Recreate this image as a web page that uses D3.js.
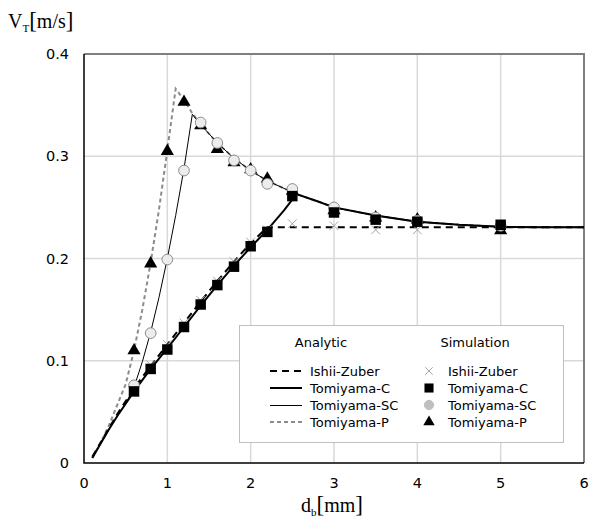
<!DOCTYPE html>
<html lang="en">
<head>
<meta charset="utf-8">
<title>Terminal velocity</title>
<script src="https://cdn.jsdelivr.net/npm/d3@7"></script>
<style>
  body { margin: 0; background: white; }
  .tick-label { font-family: "DejaVu Sans", sans-serif; font-size: 14.5px; fill: #000; }
  .legend-text { font-family: "DejaVu Sans", sans-serif; font-size: 13px; fill: #000; }
  .axis-title { font-family: "Liberation Serif", "Times New Roman", serif; fill: #000; }
</style>
</head>
<body>
<div id="chart"></div>
<script>
// analytic curves (d in mm, V in m/s)
var izX = [0.1, 0.2, 0.4, 0.6, 0.8, 1.0, 1.2, 1.4, 1.6, 1.8, 2.0, 2.2, 6.0];
var izY = [0.006, 0.020, 0.048, 0.073, 0.095, 0.116, 0.137, 0.158, 0.178, 0.197, 0.215, 0.2305, 0.2305];

var tcX = [0.1, 0.2, 0.3, 0.4, 0.5, 0.6, 0.8, 1.0, 1.2, 1.4, 1.6, 1.8, 2.0, 2.2, 2.4, 2.55, 2.8, 3.0, 3.5, 4.0, 4.5, 5.0, 5.5, 6.0];
var tcY = [0.005, 0.019, 0.033, 0.046, 0.058, 0.070, 0.092, 0.112, 0.133, 0.154, 0.174, 0.193, 0.211, 0.228, 0.247, 0.263, 0.256, 0.250, 0.242, 0.236, 0.233, 0.231, 0.2305, 0.2305];

var tscX = [0.1, 0.2, 0.3, 0.4, 0.5, 0.6, 0.7, 0.8, 0.9, 1.0, 1.1, 1.2, 1.3, 1.4, 1.6, 1.8, 2.0, 2.2, 2.55, 2.8, 3.0, 3.5, 4.0, 4.5, 5.0, 5.5, 6.0];
var tscY = [0.005, 0.019, 0.033, 0.046, 0.058, 0.074, 0.099, 0.128, 0.162, 0.200, 0.242, 0.288, 0.341, 0.331, 0.313, 0.298, 0.286, 0.276, 0.263, 0.256, 0.250, 0.242, 0.236, 0.233, 0.231, 0.2305, 0.2305];

var tpX = [0.1, 0.2, 0.3, 0.4, 0.5, 0.6, 0.7, 0.8, 0.9, 1.0, 1.1, 1.2, 1.3, 1.4, 1.6, 1.8, 2.0, 2.2, 2.55, 2.8, 3.0, 3.5, 4.0, 4.5, 5.0, 5.5, 6.0];
var tpY = [0.005, 0.020, 0.037, 0.057, 0.077, 0.110, 0.150, 0.196, 0.248, 0.306, 0.366, 0.355, 0.342, 0.331, 0.313, 0.298, 0.286, 0.276, 0.263, 0.256, 0.250, 0.242, 0.236, 0.233, 0.231, 0.2305, 0.2305];

// simulation points
var sizX = [0.6, 0.8, 1.0, 1.2, 1.4, 1.6, 1.8, 2.0, 2.2, 2.5, 3.0, 3.5, 4.0, 5.0];
var sizY = [0.074, 0.096, 0.116, 0.137, 0.159, 0.178, 0.197, 0.216, 0.228, 0.234, 0.232, 0.228, 0.228, 0.229];

var stcX = [0.6, 0.8, 1.0, 1.2, 1.4, 1.6, 1.8, 2.0, 2.2, 2.5, 3.0, 3.5, 4.0, 5.0];
var stcY = [0.070, 0.092, 0.111, 0.133, 0.155, 0.174, 0.192, 0.212, 0.226, 0.261, 0.245, 0.238, 0.236, 0.233];

var stscX = [0.6, 0.8, 1.0, 1.2, 1.4, 1.6, 1.8, 2.0, 2.2, 2.5, 3.0, 3.5, 4.0, 5.0];
var stscY = [0.076, 0.127, 0.199, 0.286, 0.333, 0.313, 0.296, 0.286, 0.273, 0.268, 0.250, 0.240, 0.237, 0.232];

var stpX = [0.6, 0.8, 1.0, 1.2, 1.4, 1.6, 1.8, 2.0, 2.2, 2.5, 3.0, 3.5, 4.0, 5.0];
var stpY = [0.110, 0.195, 0.305, 0.353, 0.330, 0.307, 0.294, 0.287, 0.278, 0.266, 0.247, 0.240, 0.238, 0.2275];

var xTicks = [0, 1, 2, 3, 4, 5, 6];
var yTicks = [0, 0.1, 0.2, 0.3, 0.4];
var lineNames = ["Ishii-Zuber", "Tomiyama-C", "Tomiyama-SC", "Tomiyama-P"];

var w = 590, h = 520;
var padL = 84, padR = 584, padT = 54, padB = 463;

var svg = d3.select("#chart").append("svg").attr("width", w).attr("height", h);

var xScale = d3.scaleLinear().domain([0, 6]).range([padL, padR]);
var yScale = d3.scaleLinear().domain([0, 0.4]).range([padB, padT]);

function zip(xs, ys) { return xs.map(function(d, i) { return [d, ys[i]]; }); }

// grid
svg.append("g").selectAll("line").data(xTicks.slice(1, -1)).enter().append("line")
  .attr("x1", function(d) { return xScale(d); }).attr("x2", function(d) { return xScale(d); })
  .attr("y1", padT).attr("y2", padB)
  .style("stroke", "#d9d9d9").style("stroke-width", 1.5);
svg.append("g").selectAll("line").data(yTicks.slice(1, -1)).enter().append("line")
  .attr("x1", padL).attr("x2", padR)
  .attr("y1", function(d) { return yScale(d); }).attr("y2", function(d) { return yScale(d); })
  .style("stroke", "#d9d9d9").style("stroke-width", 1.5);

// frame: top/right grey, left/bottom black
svg.append("path").attr("d", "M" + padL + "," + padT + "H" + padR + "V" + padB)
  .style("fill", "none").style("stroke", "#7f7f7f").style("stroke-width", 2);
svg.append("path").attr("d", "M" + padL + "," + padT + "V" + padB + "H" + padR)
  .style("fill", "none").style("stroke", "#000").style("stroke-width", 1.5);

// tick labels
svg.append("g").selectAll("text").data(xTicks).enter().append("text")
  .attr("class", "tick-label").attr("x", function(d) { return xScale(d); }).attr("y", 488)
  .attr("text-anchor", "middle").text(function(d) { return d; });
svg.append("g").selectAll("text").data(yTicks).enter().append("text")
  .attr("class", "tick-label").attr("x", 69).attr("y", function(d) { return yScale(d) + 5; })
  .attr("text-anchor", "end").text(function(d) { return d === 0 ? "0" : d3.format(".1f")(d); });

// axis titles
var yt = svg.append("text").attr("class", "axis-title").attr("x", 8).attr("y", 28).style("font-size", "20px");
yt.append("tspan").text("V");
yt.append("tspan").attr("dy", 4).style("font-size", "11px").text("T");
yt.append("tspan").attr("dy", -4).style("font-size", "23px").text("[");
yt.append("tspan").style("font-size", "20px").text("m/s");
yt.append("tspan").style("font-size", "23px").text("]");

var xt = svg.append("text").attr("class", "axis-title").attr("x", 332).attr("y", 512)
  .attr("text-anchor", "middle").style("font-size", "20px");
xt.append("tspan").text("d");
xt.append("tspan").attr("dy", 4).style("font-size", "11px").text("b");
xt.append("tspan").attr("dy", -4).style("font-size", "23px").text("[");
xt.append("tspan").style("font-size", "20px").text("mm");
xt.append("tspan").style("font-size", "23px").text("]");

// line styles
var lineStyles = [
  { stroke: "#000", width: 2, dash: "7,5" },
  { stroke: "#000", width: 2, dash: null },
  { stroke: "#000", width: 1, dash: null },
  { stroke: "#8c8c8c", width: 2, dash: "4,3" }
];
var lineData = [zip(izX, izY), zip(tcX, tcY), zip(tscX, tscY), zip(tpX, tpY)];
var line = d3.line().x(function(d) { return xScale(d[0]); }).y(function(d) { return yScale(d[1]); });

var drawOrder = [3, 2, 0, 1];
drawOrder.forEach(function(i) {
  svg.append("path").datum(lineData[i]).attr("d", line)
    .style("fill", "none").style("stroke", lineStyles[i].stroke)
    .style("stroke-width", lineStyles[i].width)
    .style("stroke-dasharray", lineStyles[i].dash);
});

// markers
var markerStyles = [
  { type: d3.symbolTimes, size: 50, fill: "none", stroke: "#a6a6a6", sw: 1 },
  { type: d3.symbolSquare, size: 110, fill: "#000", stroke: "none", sw: 0 },
  { type: d3.symbolCircle, size: 90, fill: "#ececec", stroke: "#8c8c8c", sw: 1 },
  { type: d3.symbolTriangle, size: 75, fill: "#000", stroke: "none", sw: 0 }
];
var markerData = [zip(sizX, sizY), zip(stcX, stcY), zip(stscX, stscY), zip(stpX, stpY)];

[0, 3, 2, 1].forEach(function(i) {
  var m = markerStyles[i];
  svg.append("g").selectAll("path").data(markerData[i]).enter().append("path")
    .attr("transform", function(d) { return "translate(" + xScale(d[0]) + "," + yScale(d[1]) + ")"; })
    .attr("d", d3.symbol().type(m.type).size(m.size))
    .style("fill", m.fill).style("stroke", m.stroke).style("stroke-width", m.sw);
});

// legend
var lg = svg.append("g");
lg.append("rect").attr("x", 239.5).attr("y", 325.5).attr("width", 324).attr("height", 117)
  .style("fill", "white").style("stroke", "#bfbfbf").style("stroke-width", 1);
lg.append("text").attr("class", "legend-text").attr("x", 321).attr("y", 347).attr("text-anchor", "middle").text("Analytic");
lg.append("text").attr("class", "legend-text").attr("x", 475).attr("y", 347).attr("text-anchor", "middle").text("Simulation");

var rowY = [371, 388, 405, 422];
lineNames.forEach(function(name, i) {
  var ls = lineStyles[i];
  var ly = ls.width === 1 ? rowY[i] + 0.5 : rowY[i];
  lg.append("line").attr("x1", 270).attr("x2", 302).attr("y1", ly).attr("y2", ly)
    .style("stroke", ls.stroke).style("stroke-width", ls.width).style("stroke-dasharray", ls.dash);
  lg.append("text").attr("class", "legend-text").attr("x", 310).attr("y", rowY[i] + 5).text(name);
  var m = markerStyles[i];
  lg.append("path").attr("transform", "translate(429," + rowY[i] + ")")
    .attr("d", d3.symbol().type(m.type).size(m.size * 0.75))
    .style("fill", i === 2 ? "#bfbfbf" : m.fill).style("stroke", i === 2 ? "#bfbfbf" : m.stroke).style("stroke-width", m.sw);
  lg.append("text").attr("class", "legend-text").attr("x", 448).attr("y", rowY[i] + 5).text(name);
});
</script>
</body>
</html>
